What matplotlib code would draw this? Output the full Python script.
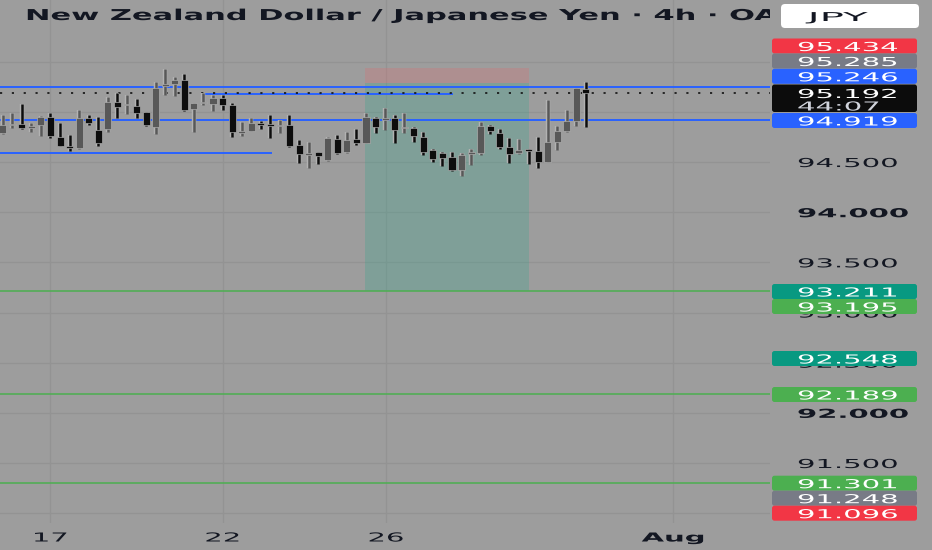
import matplotlib
matplotlib.use("Agg")
import matplotlib.pyplot as plt
import numpy as np
from matplotlib.patches import Rectangle, FancyBboxPatch
from matplotlib.patheffects import AbstractPathEffect
from matplotlib.transforms import Affine2D, blended_transform_factory

W, H = 932, 550

# ---------------- data ----------------
title = "New Zealand Dollar / Japanese Yen · 4h · OANDA"
currency = "JPY"

opens = [94.786, 94.865, 94.875, 94.842, 94.869, 94.952, 94.752, 94.663, 94.636, 94.942,
         94.819, 94.826, 95.101, 95.065, 95.058, 94.995, 94.852, 95.254, 95.277, 95.317,
         95.025, 95.085, 95.075, 95.141, 95.068, 94.792, 94.809, 94.885, 94.879, 94.856,
         94.869, 94.669, 94.570, 94.596, 94.520, 94.733, 94.603, 94.726, 94.693, 94.935,
         94.922, 94.940, 94.836, 94.836, 94.752, 94.617, 94.590, 94.547, 94.417, 94.581,
         94.590, 94.859, 94.786, 94.645, 94.586, 94.623, 94.613, 94.503, 94.703, 94.809,
         94.905, 95.224]
highs = [94.968, 94.985, 95.075, 94.885, 94.955, 94.992, 94.885, 94.769, 95.018, 94.968,
         94.945, 95.151, 95.191, 95.168, 95.125, 95.002, 95.294, 95.424, 95.351, 95.377,
         95.088, 95.184, 95.168, 95.168, 95.085, 94.895, 94.935, 94.909, 94.968, 94.919,
         94.968, 94.719, 94.696, 94.599, 94.752, 94.769, 94.802, 94.826, 94.985, 94.952,
         95.035, 94.970, 94.985, 94.852, 94.800, 94.626, 94.598, 94.595, 94.586, 94.626,
         94.902, 94.869, 94.828, 94.736, 94.731, 94.633, 94.746, 95.118, 94.864, 95.018,
         95.241, 95.301]
lows = [94.780, 94.842, 94.829, 94.796, 94.762, 94.743, 94.656, 94.610, 94.626, 94.869,
        94.663, 94.796, 94.935, 94.975, 94.935, 94.859, 94.776, 95.168, 95.161, 95.012,
        94.802, 95.065, 95.008, 95.018, 94.752, 94.762, 94.806, 94.829, 94.743, 94.786,
        94.653, 94.487, 94.437, 94.477, 94.513, 94.576, 94.593, 94.669, 94.686, 94.792,
        94.819, 94.690, 94.790, 94.695, 94.575, 94.503, 94.457, 94.412, 94.357, 94.475,
        94.570, 94.783, 94.626, 94.487, 94.578, 94.480, 94.437, 94.497, 94.615, 94.802,
        94.860, 94.852]
closes = [94.869, 94.872, 94.842, 94.859, 94.952, 94.759, 94.663, 94.643, 94.935, 94.885,
          94.686, 95.101, 95.051, 95.075, 94.985, 94.869, 95.241, 95.274, 95.317, 95.018,
          95.085, 95.095, 95.141, 95.068, 94.802, 94.809, 94.885, 94.869, 94.856, 94.869,
          94.663, 94.576, 94.590, 94.563, 94.736, 94.586, 94.719, 94.693, 94.945, 94.852,
          94.937, 94.819, 94.852, 94.762, 94.600, 94.534, 94.540, 94.420, 94.570, 94.598,
          94.859, 94.807, 94.646, 94.580, 94.620, 94.610, 94.503, 94.700, 94.805, 94.911,
          95.234, 95.192]

xtick_pos = [5.0, 23.0, 40.1, 70.1]
xtick_labels = ["17", "22", "26", "Aug"]
xtick_bold = [False, False, False, True]

grid_levels = [95.5, 95.0, 94.5, 94.0, 93.5, 93.0, 92.5, 92.0, 91.5, 91.0]
ytick_vals = [94.5, 94.0, 93.5, 93.0, 92.5, 92.0, 91.5]
ytick_labels = ["94.500", "94.000", "93.500", "93.000", "92.500", "92.000", "91.500"]
ytick_bold = [False, True, False, False, False, True, False]

last_price = 95.192
countdown = "44:07"
blue_full_levels = [95.246, 94.919]
blue_seg_levels = [95.183, 94.587]
blue_seg_start = [20.95, -0.3]
blue_seg_end = [47.1, 28.2]
green_levels = [93.211, 92.189, 91.301]

pos_start, pos_end = 37.9, 55.05
pos_stop, pos_entry, pos_target = 95.434, 95.285, 93.211

label_values = [95.434, 95.285, 95.246, 95.192, 94.919,
                93.211, 93.195, 92.548, 92.189, 91.301, 91.248, 91.096]
label_colors = ["#f23645", "#787b86", "#2962ff", "#0c0c0c", "#2962ff",
                "#089981", "#4caf50", "#089981", "#4caf50", "#4caf50", "#787b86", "#f23645"]

# ---------------- layout / style ----------------
label_top = [38.5, 53.5, 68.8, 84.5, 113.0, 284.0, 299.0, 351.0, 387.0, 475.7, 490.7, 505.7]
label_h = [15, 15, 15, 27.5, 15, 15, 15, 15, 15, 15, 15, 15]

BG = "#9d9d9d"
GRID = "#939393"
TXT = "#131722"
UP = "#585858"
DOWN = "#0d0d0d"
HALO = "#b2b2b2"
BLUE = "#2962ff"
GREEN = "#4caf50"


class HStretch(AbstractPathEffect):
    """Draw the text glyphs stretched horizontally (screenshot is widened)."""
    def __init__(self, sx, ha="left"):
        super().__init__()
        self._sx = sx
        self._ha = ha

    def draw_path(self, renderer, gc, tpath, affine, rgbFace=None):
        ext = tpath.get_extents()
        if self._ha == "left":
            a = 0.0
        elif self._ha == "center":
            a = 0.5 * (ext.x0 + ext.x1)
        else:
            a = ext.x1
        pre = Affine2D().translate(-a, 0).scale(self._sx, 1.0).translate(a, 0)
        renderer.draw_path(gc, tpath, pre + affine, rgbFace)


def fx(x):
    return x / W


def fy(y):
    return 1 - y / H


fig = plt.figure(figsize=(W / 100, H / 100), dpi=100)
fig.patch.set_facecolor(BG)
ax = fig.add_axes([0, 27 / H, 770 / W, 523 / H])
ax.set_facecolor(BG)
for s in ax.spines.values():
    s.set_visible(False)
ax.set_xlim(-0.28, 80.26)
ax.set_ylim(90.902, 96.115)
ax.set_xticks(xtick_pos)
ax.set_yticks(grid_levels)
ax.tick_params(length=0, labelbottom=False, labelleft=False)
ax.grid(True, color=GRID, lw=1.0)
ax.set_axisbelow(True)

# position zone
ax.add_patch(Rectangle((pos_start, pos_entry), pos_end - pos_start, pos_stop - pos_entry,
                       facecolor="#d87174", alpha=0.3, edgecolor="none", zorder=1))
ax.add_patch(Rectangle((pos_start, pos_target), pos_end - pos_start, pos_entry - pos_target,
                       facecolor="#3ba68f", alpha=0.3, edgecolor="none", zorder=1))

# horizontal levels
for lv in blue_full_levels:
    ax.axhline(lv, color=BLUE, lw=1.4, zorder=2)
for lv, a, b in zip(blue_seg_levels, blue_seg_start, blue_seg_end):
    ax.hlines(lv, a, b, color=BLUE, lw=1.4, zorder=2)
for lv in green_levels:
    ax.axhline(lv, color=GREEN, lw=1.1, zorder=2)
ax.axhline(last_price, color="#111111", lw=1.2, linestyle=(0, (1.3, 5.8)), zorder=2.5)

# candles
o = np.array(opens); h = np.array(highs); l = np.array(lows); c = np.array(closes)
x = np.arange(len(o))
up = c >= o
cols = np.where(up, UP, DOWN)
ax.vlines(x, l, h, colors=HALO, lw=3.2, zorder=3)
ax.vlines(x, l, h, colors=cols, lw=1.8, zorder=3.2)
body_lo = np.minimum(o, c)
body_h = np.maximum(np.abs(c - o), 0.018)
ax.bar(x, body_h, bottom=body_lo, width=0.74, color=cols, edgecolor=HALO,
       linewidth=0.45, zorder=3.5)

# title (clipped to plot area)
ax.text(fx(25), fy(20), title, transform=fig.transFigure, fontsize=10.8,
        fontweight="bold", color=TXT, ha="left", va="baseline", clip_on=True,
        path_effects=[HStretch(2.03)], zorder=6)

# currency button
fig.add_artist(FancyBboxPatch((781 / 100, (H - 28) / 100), 138 / 100, 24 / 100,
                              boxstyle="round,pad=0,rounding_size=0.04",
                              transform=fig.dpi_scale_trans, facecolor="white",
                              edgecolor="none", zorder=2))
fig.text(fx(837), fy(16), currency, fontsize=8.8, color=TXT, ha="center",
         va="center_baseline", path_effects=[HStretch(3.3, "center")], zorder=3)

SX = 2.35
FS = 8.9
# y tick labels
ytr = blended_transform_factory(fig.transFigure, ax.transData)
for v, s, b in zip(ytick_vals, ytick_labels, ytick_bold):
    fig.text(fx(797), v, s, transform=ytr, fontsize=FS, color=TXT,
             fontweight="bold" if b else "normal", ha="left", va="center_baseline",
             path_effects=[HStretch(SX)], zorder=1.5)

# x tick labels
xtr = blended_transform_factory(ax.transData, fig.transFigure)
for v, s, b in zip(xtick_pos, xtick_labels, xtick_bold):
    ax.text(v, fy(536.5), s, transform=xtr, fontsize=FS, color=TXT,
            fontweight="bold" if b else "normal", ha="center", va="center_baseline",
            path_effects=[HStretch(SX, "center")], clip_on=False)

# price labels
for v, col, top, hh in zip(label_values, label_colors, label_top, label_h):
    fig.add_artist(FancyBboxPatch((772 / 100, (H - top - hh) / 100), 145 / 100, hh / 100,
                                  boxstyle="round,pad=0,rounding_size=0.025",
                                  transform=fig.dpi_scale_trans, facecolor=col,
                                  edgecolor="none", zorder=2))
    if hh > 20:
        fig.text(fx(797), fy(top + 8.5), f"{v:.3f}", fontsize=FS, color="white",
                 ha="left", va="center_baseline", path_effects=[HStretch(SX)], zorder=3)
        fig.text(fx(797), fy(top + 21), countdown, fontsize=FS, color="#d1d4dc",
                 ha="left", va="center_baseline", path_effects=[HStretch(SX)], zorder=3)
    else:
        fig.text(fx(797), fy(top + hh / 2), f"{v:.3f}", fontsize=FS, color="white",
                 ha="left", va="center_baseline", path_effects=[HStretch(SX)], zorder=3)

fig.savefig("out.png", dpi=100, facecolor=BG)
